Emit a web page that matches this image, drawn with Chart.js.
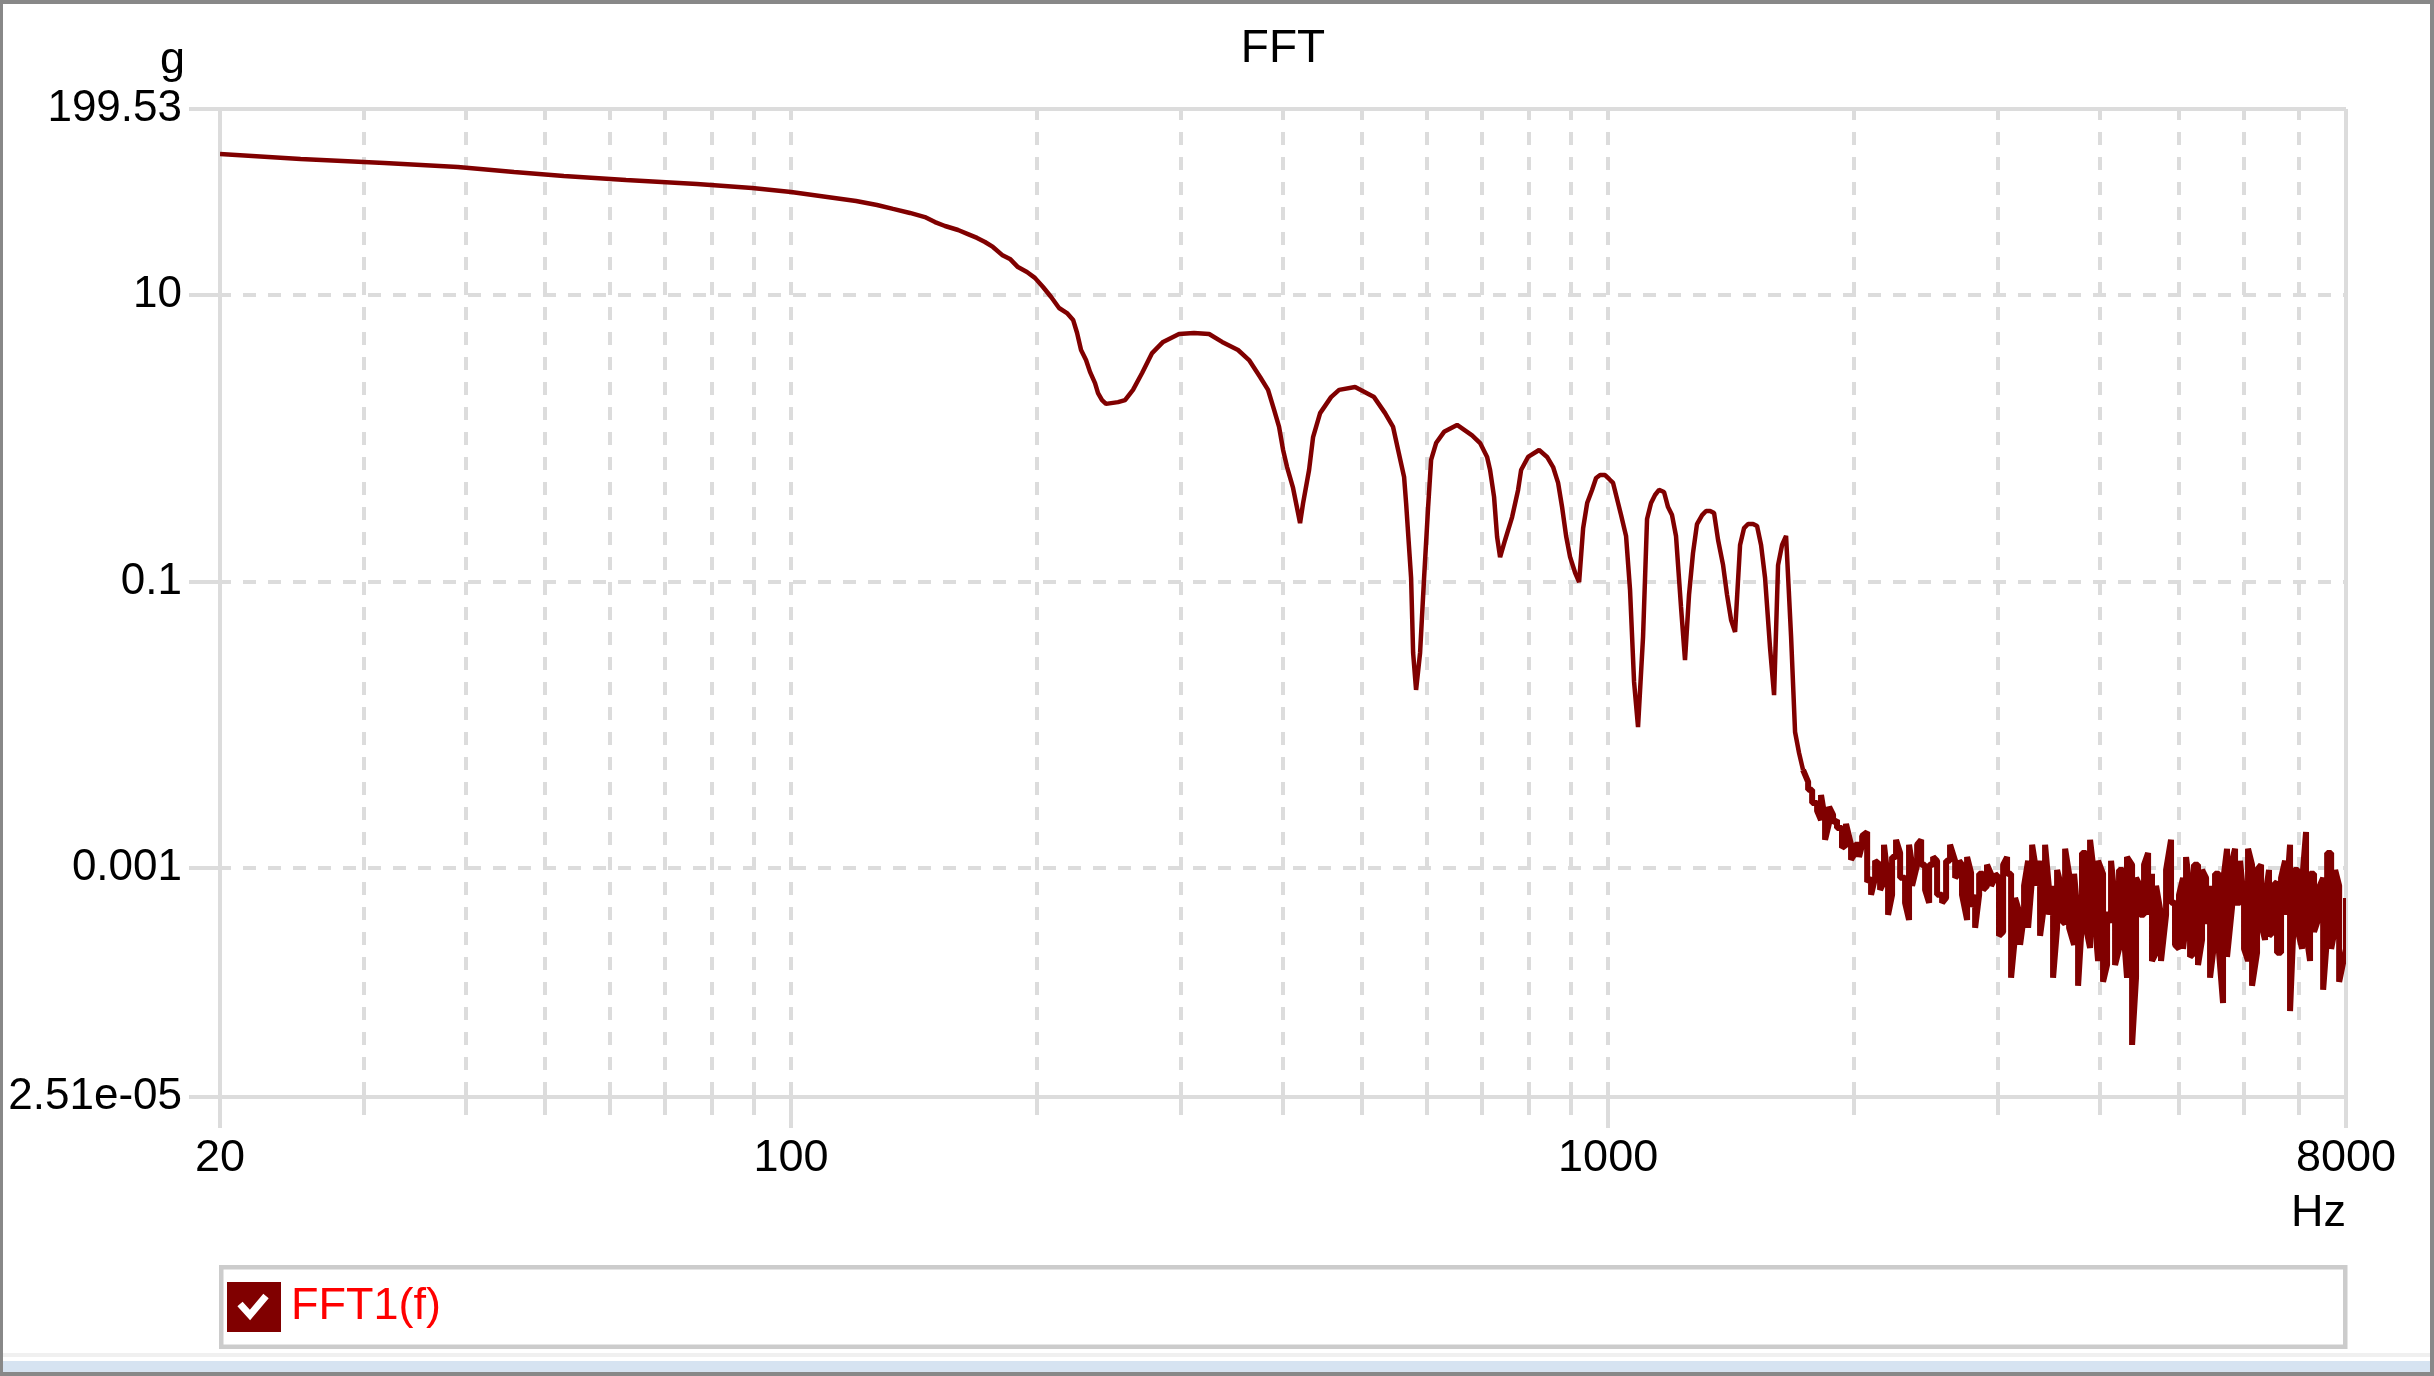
<!DOCTYPE html>
<html lang="en">
<head>
<meta charset="UTF-8">
<title>FFT</title>
<script src="https://cdn.jsdelivr.net/npm/chart.js"></script>
<style>
  html, body { margin: 0; padding: 0; background: #fff; }
  #wrap { width: 2434px; height: 1376px; }
</style>
</head>
<body>
<div id="wrap"><canvas id="fft" width="2434" height="1376"></canvas></div>
<script>
// smooth roll-off, 20 Hz .. first notch
const lowFreq = [20, 25.1, 31.8, 39.1, 45.8, 52.7, 62.8, 76.7, 89.6, 100.0, 110.7, 120.1, 127.4, 133.3, 139.8, 145.8, 150.0, 154.3, 160.1, 164.6, 168.9, 172.7, 176.6, 181.2, 185.3, 189.5, 194.4, 198.8, 203.4, 208.1, 212.8, 217.6, 221.4, 223.9, 226.4, 229.6, 232.2, 235.5, 237.5, 240.2];
const lowMag = [96.8, 89.3, 83.7, 78.5, 72.4, 67.9, 63.7, 59.7, 56.0, 52.5, 48.5, 45.4, 42.6, 40.0, 37.5, 35.1, 32.4, 30.4, 28.5, 26.7, 25.1, 23.5, 21.7, 19.1, 17.9, 15.7, 14.5, 13.2, 11.4, 9.70, 8.13, 7.50, 6.71, 5.44, 4.14, 3.52, 2.91, 2.43, 2.07, 1.85];

// side lobes up to ~820 Hz
const lobeFreq = [242.9, 251.3, 256.3, 262.1, 268.9, 276.6, 285.3, 298.4, 311.3, 324.8, 336.9, 352.4, 363.5, 375.0, 383.5, 390.1, 395.6, 400.1, 404.6, 411.5, 419.7, 423.3, 430.5, 435.4, 444.1, 458.0, 468.5, 490.1, 517.0, 533.3, 545.5, 553.3, 562.7, 565.9, 573.9, 577.2, 582.0, 588.6, 595.3, 602.1, 607.2, 615.8, 629.8, 653.3, 681.5, 697.1, 711.0, 717.0, 725.1, 731.3, 737.5, 748.0, 762.9, 775.9, 782.5, 798.0, 823.2];
const lobeMag = [1.74, 1.79, 1.85, 2.18, 2.86, 3.94, 4.71, 5.35, 5.44, 5.35, 4.71, 4.14, 3.52, 2.68, 2.18, 1.58, 1.20, 0.829, 0.630, 0.450, 0.256, 0.353, 0.601, 1.02, 1.50, 1.94, 2.18, 2.28, 1.94, 1.50, 1.20, 0.829, 0.537, 0.353, 0.106, 0.0317, 0.0175, 0.0317, 0.106, 0.331, 0.706, 0.927, 1.11, 1.24, 1.05, 0.927, 0.741, 0.601, 0.389, 0.205, 0.148, 0.195, 0.282, 0.436, 0.601, 0.741, 0.829];

// narrow lobes ~840 Hz .. 1.73 kHz
const highFreq = [841.9, 856.3, 868.5, 878.3, 888.3, 898.4, 911.2, 921.5, 932.0, 942.6, 955.7, 966.6, 977.6, 991.4, 1002.7, 1014.0, 1025.5, 1037.1, 1051.8, 1063.7, 1075.8, 1087.9, 1103.4, 1115.9, 1128.5, 1141.3, 1154.2, 1170.6, 1183.9, 1197.3, 1210.8, 1228.0, 1241.9, 1256.0, 1270.2, 1284.6, 1303.2, 1317.9, 1332.9, 1347.9, 1363.2, 1382.6, 1398.2, 1414.1, 1430.1, 1450.4, 1466.8, 1483.4, 1504.5, 1521.5, 1538.8, 1556.2, 1578.3, 1596.2, 1614.3, 1632.6, 1651.1, 1674.5, 1693.5, 1712.7, 1732.1];
const highMag = [0.741, 0.630, 0.488, 0.331, 0.208, 0.148, 0.115, 0.0992, 0.236, 0.353, 0.436, 0.528, 0.554, 0.554, 0.520, 0.488, 0.377, 0.291, 0.208, 0.0872, 0.0199, 0.00963, 0.0410, 0.273, 0.353, 0.402, 0.436, 0.422, 0.331, 0.291, 0.208, 0.0664, 0.0283, 0.0805, 0.158, 0.252, 0.291, 0.311, 0.311, 0.301, 0.195, 0.130, 0.0805, 0.0539, 0.0444, 0.180, 0.236, 0.252, 0.252, 0.244, 0.180, 0.106, 0.0343, 0.0161, 0.130, 0.180, 0.208, 0.0416, 0.00889, 0.00634, 0.00483];

// noise floor 1.75 kHz .. 8 kHz: per plotted frequency, the highest and lowest bin
const noiseFreq = [1757, 1777, 1802, 1822, 1843, 1864, 1885, 1906, 1933, 1955, 1983, 2006, 2028, 2046, 2075, 2098, 2122, 2152, 2176, 2201, 2226, 2251, 2277, 2309, 2335, 2355, 2389, 2416, 2443, 2471, 2499, 2527, 2563, 2592, 2621, 2659, 2689, 2711, 2750, 2781, 2813, 2845, 2877, 2909, 2942, 2976, 3009, 3044, 3078, 3113, 3148, 3193, 3229, 3266, 3303, 3340, 3378, 3426, 3465, 3504, 3544, 3584, 3625, 3666, 3718, 3760, 3802, 3845, 3889, 3933, 3978, 4034, 4080, 4126, 4173, 4220, 4268, 4316, 4378, 4427, 4477, 4528, 4580, 4631, 4684, 4750, 4818, 4886, 4941, 4997, 5054, 5097, 5155, 5213, 5272, 5332, 5393, 5454, 5531, 5594, 5657, 5721, 5803, 5852, 5935, 6002, 6070, 6139, 6226, 6297, 6368, 6440, 6514, 6587, 6662, 6738, 6833, 6910, 6989, 7068, 7148, 7229, 7311, 7394, 7501, 7586, 7672, 7759, 7847, 8000];
const noiseHigh = [0.00399, 0.00351, 0.00284, 0.00323, 0.00216, 0.00267, 0.00235, 0.00216, 0.00190, 0.00203,
    0.00145, 0.00145, 0.00145, 0.00167, 0.00178, 0.000852, 0.00112, 0.00105, 0.00145, 0.000798,
    0.00119, 0.00157, 0.00127, 0.000852, 0.00145, 0.00105, 0.00145, 0.00157, 0.00105, 0.00105,
    0.00119, 0.00112, 0.000648, 0.00112, 0.00145, 0.00112, 0.00112, 0.00105, 0.00119, 0.000923,
    0.000648, 0.000908, 0.000908, 0.00105, 0.000908, 0.000908, 0.000852, 0.00105, 0.00119, 0.000908,
    0.000617, 0.000470, 0.000749, 0.00112, 0.00145, 0.000968, 0.00112, 0.00145, 0.000702, 0.000749,
    0.000968, 0.000749, 0.00136, 0.000908, 0.000908, 0.000433, 0.00127, 0.00127, 0.00157, 0.000908,
    0.00112, 0.000908, 0.000493, 0.00112, 0.000570, 0.000968, 0.000968, 0.00119, 0.00105, 0.000852,
    0.000749, 0.00105, 0.00127, 0.000908, 0.000749, 0.000470, 0.000968, 0.00157, 0.000570, 0.000648,
    0.000852, 0.00119, 0.000702, 0.00105, 0.00105, 0.000968, 0.000852, 0.000749, 0.000908, 0.000908,
    0.000798, 0.00136, 0.00112, 0.00136, 0.00112, 0.000570, 0.00136, 0.00105, 0.000968, 0.00105,
    0.000617, 0.000968, 0.000749, 0.000798, 0.000852, 0.00112, 0.00145, 0.000968, 0.000968, 0.000798,
    0.00178, 0.000908, 0.000908, 0.000702, 0.000852, 0.00127, 0.00127, 0.000968, 0.000749, 0.000617];
const noiseLow = [0.00351, 0.00284, 0.00250, 0.00216, 0.00157, 0.00206, 0.00206, 0.00190, 0.00138, 0.00145,
    0.00114, 0.00127, 0.00119, 0.00145, 0.000798, 0.000648, 0.000852, 0.000702, 0.000798, 0.000470,
    0.000648, 0.00119, 0.000852, 0.000570, 0.000433, 0.000749, 0.00105, 0.00105, 0.000702, 0.000570,
    0.00105, 0.000648, 0.000570, 0.000617, 0.00112, 0.000852, 0.000923, 0.000648, 0.000433, 0.000534,
    0.000381, 0.000648, 0.000702, 0.000749, 0.000749, 0.000852, 0.000335, 0.000357, 0.000908, 0.000171,
    0.000335, 0.000290, 0.000470, 0.000381, 0.000852, 0.000749, 0.000335, 0.000617, 0.000470, 0.000171,
    0.000381, 0.000433, 0.000406, 0.000381, 0.000290, 0.000150, 0.000433, 0.000381, 0.000276, 0.000493,
    0.000224, 0.000160, 0.000210, 0.000413, 0.000210, 0.000272, 0.000406, 0.000171, 0.0000580, 0.000171,
    0.000470, 0.000470, 0.000470, 0.000224, 0.000255, 0.000224, 0.000470, 0.000570, 0.000290, 0.000272,
    0.000272, 0.000406, 0.000239, 0.000255, 0.000210, 0.000314, 0.000406, 0.000171, 0.000335, 0.000255,
    0.000114, 0.000239, 0.000534, 0.000570, 0.000570, 0.000272, 0.000224, 0.000150, 0.000255, 0.000406,
    0.000314, 0.000335, 0.000357, 0.000255, 0.000255, 0.000470, 0.000100, 0.000493, 0.000357, 0.000272,
    0.000357, 0.000224, 0.000357, 0.000433, 0.000141, 0.000335, 0.000272, 0.000381, 0.000160, 0.000272];

const xTickValues = [20, 100, 1000, 8000];
const xGridValues = [30, 40, 50, 60, 70, 80, 90, 100, 200, 300, 400, 500, 600, 700, 800, 900, 1000, 2000, 3000, 4000, 5000, 6000, 7000];
const xMajorGrid = [100, 1000];
const yTickValues = [2.51e-5, 0.001, 0.1, 10, 199.53];
const yTickLabels = ['2.51e-05', '0.001', '0.1', '10', '199.53'];
const yGridValues = [0.001, 0.1, 10];

const FONT = "'Liberation Sans', Arial, sans-serif";
Chart.defaults.font.family = FONT;
Chart.defaults.color = '#000';

// smooth part point by point
const mainPts = [];
lowFreq.forEach((f, i) => mainPts.push({ x: f, y: lowMag[i] }));
lobeFreq.forEach((f, i) => mainPts.push({ x: f, y: lobeMag[i] }));
highFreq.forEach((f, i) => mainPts.push({ x: f, y: highMag[i] }));

// noise part: high/low pair per frequency, continuing from the last smooth point
const noisePts = [mainPts[mainPts.length - 1]];
let lastMag = highMag[highMag.length - 1];
noiseFreq.forEach((f, i) => {
    const hi = noiseHigh[i], lo = noiseLow[i];
    const hiFirst = Math.abs(Math.log(hi / lastMag)) <= Math.abs(Math.log(lo / lastMag));
    const a = hiFirst ? hi : lo, b = hiFirst ? lo : hi;
    noisePts.push({ x: f, y: a }, { x: f, y: b });
    lastMag = b;
});

const GRID = '#dcdcdc';
const LINE = '#800000';

function line(ctx, x1, y1, x2, y2) {
    ctx.beginPath();
    ctx.moveTo(x1, y1);
    ctx.lineTo(x2, y2);
    ctx.stroke();
}

const framePlugin = {
    id: 'frame',
    beforeDraw(chart) {
        const ctx = chart.ctx;
        const W = chart.width, H = chart.height;
        ctx.save();
        ctx.fillStyle = '#fff';
        ctx.fillRect(0, 0, W, H);
        ctx.fillStyle = '#f0f0f0';
        ctx.fillRect(0, 1353, W, 4);
        ctx.fillStyle = '#d6e3f1';
        ctx.fillRect(0, 1361, W, 11);
        ctx.fillStyle = '#888';
        ctx.fillRect(0, 0, W, 4);
        ctx.fillRect(0, 0, 3, H);
        ctx.fillRect(W - 4, 0, 4, H);
        ctx.fillRect(0, H - 4, W, 4);
        ctx.restore();
    },
    beforeDatasetsDraw(chart) {
        const ctx = chart.ctx;
        const { left, right, top, bottom } = chart.chartArea;
        const xs = chart.scales.x, ys = chart.scales.y;
        ctx.save();
        ctx.strokeStyle = GRID;
        ctx.lineWidth = 4;

        // dashed grid
        ctx.setLineDash([13, 12]);
        ctx.lineDashOffset = 2;
        xGridValues.forEach(v => {
            const px = Math.round(xs.getPixelForValue(v));
            line(ctx, px, top, px, bottom);
        });
        yGridValues.forEach(v => {
            const py = Math.round(ys.getPixelForValue(v));
            line(ctx, left, py, right, py);
        });

        // solid frame and tick marks
        ctx.setLineDash([]);
        xGridValues.forEach(v => {
            const px = Math.round(xs.getPixelForValue(v));
            const len = xMajorGrid.includes(v) ? 31 : 18;
            line(ctx, px, bottom, px, bottom + len);
        });
        yGridValues.forEach(v => {
            const py = Math.round(ys.getPixelForValue(v));
            line(ctx, left - 31, py, left, py);
        });
        line(ctx, left - 31, top, right, top);
        line(ctx, left - 31, bottom, right, bottom);
        line(ctx, left, top, left, bottom + 31);
        line(ctx, right, top, right, bottom + 31);
        ctx.restore();
    },
    afterDraw(chart) {
        const ctx = chart.ctx;
        const { right } = chart.chartArea;
        ctx.save();
        ctx.font = '45px ' + FONT;
        ctx.fillStyle = '#000';
        ctx.textAlign = 'right';
        ctx.textBaseline = 'alphabetic';
        ctx.fillText('g', 185, 73);
        ctx.fillText('Hz', right, 1226);

        // legend box
        ctx.strokeStyle = '#cccccc';
        ctx.lineWidth = 4.5;
        ctx.strokeRect(221.25, 1267.25, 2124, 79.5);
        ctx.fillStyle = LINE;
        ctx.fillRect(227, 1282, 54, 50);
        ctx.strokeStyle = '#fff';
        ctx.lineWidth = 7;
        ctx.lineJoin = 'miter';
        ctx.beginPath();
        ctx.moveTo(240, 1304);
        ctx.lineTo(250, 1315);
        ctx.lineTo(266, 1296);
        ctx.stroke();
        ctx.fillStyle = '#ff0000';
        ctx.textAlign = 'left';
        ctx.textBaseline = 'middle';
        ctx.fillText(chart.data.datasets[0].label, 291, 1307);
        ctx.restore();
    }
};

new Chart(document.getElementById('fft'), {
    type: 'line',
    data: {
        datasets: [{
            label: 'FFT1(f)',
            data: mainPts,
            borderColor: LINE,
            borderWidth: 4.5,
            borderJoinStyle: 'bevel',
            pointRadius: 0,
            tension: 0,
            fill: false
        }, {
            label: 'FFT1(f) noise',
            data: noisePts,
            borderColor: LINE,
            borderWidth: 6,
            borderJoinStyle: 'bevel',
            pointRadius: 0,
            tension: 0,
            fill: false
        }]
    },
    options: {
        responsive: false,
        animation: false,
        devicePixelRatio: 1,
        layout: { padding: { left: 0, right: 88, top: 0, bottom: 0 } },
        plugins: {
            legend: { display: false },
            tooltip: { enabled: false },
            title: {
                display: true,
                text: 'FFT',
                fullSize: false,
                color: '#000',
                font: { size: 46, weight: 'normal' },
                padding: { top: 22, bottom: 31.8 }
            }
        },
        scales: {
            x: {
                type: 'logarithmic',
                min: 20,
                max: 8000,
                grid: { display: false, drawTicks: false },
                border: { display: false },
                afterBuildTicks: s => { s.ticks = xTickValues.map(v => ({ value: v })); },
                afterFit: s => { s.height = 279; },
                ticks: {
                    autoSkip: false,
                    maxRotation: 0,
                    padding: 35,
                    color: '#000',
                    font: { size: 45 },
                    callback: v => String(v)
                }
            },
            y: {
                type: 'logarithmic',
                min: 2.51e-5,
                max: 199.53,
                grid: { display: false, drawTicks: false },
                border: { display: false },
                afterBuildTicks: s => { s.ticks = yTickValues.map(v => ({ value: v })); },
                afterFit: s => { s.width = 220; },
                ticks: {
                    autoSkip: false,
                    padding: 38,
                    color: '#000',
                    font: { size: 44 },
                    callback: (v, i) => yTickLabels[i]
                }
            }
        }
    },
    plugins: [framePlugin]
});
</script>
</body>
</html>
